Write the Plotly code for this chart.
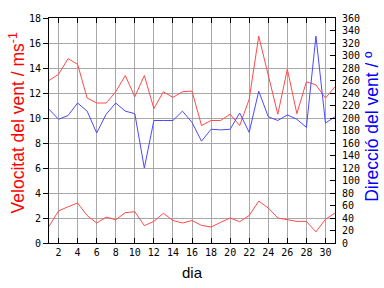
import plotly.graph_objects as go

dies = list(range(1, 32))
vel_max = [13.0, 13.5, 14.75, 14.3, 11.6, 11.2, 11.2, 12.1, 13.4, 11.7, 13.4, 10.75, 12.1, 11.65, 12.1,
           12.15, 9.4, 9.8, 9.8, 10.3, 9.4, 11.5, 16.55, 13.4, 10.3, 13.9, 10.35, 12.9, 12.65, 11.6, 12.5]
vel_mitja = [1.33, 2.57, 2.9, 3.2, 2.2, 1.6, 2.07, 1.86, 2.43, 2.5, 1.39, 1.73, 2.38, 1.8, 1.6,
             1.8, 1.41, 1.28, 1.65, 2.0, 1.7, 2.2, 3.35, 2.8, 2.0, 1.86, 1.73, 1.73, 0.89, 1.9, 2.4]
direccio = [214, 198, 204, 224, 211, 176, 206, 224, 211, 207, 120, 196, 196, 196, 211,
            193, 163, 182, 181, 182, 208, 177, 243, 202, 196, 205, 198, 185, 331, 192, 202]

fig = go.Figure()
fig.add_trace(go.Scatter(x=dies, y=vel_max, mode="lines", line=dict(color="#ff4a4a", width=1), yaxis="y"))
fig.add_trace(go.Scatter(x=dies, y=vel_mitja, mode="lines", line=dict(color="#ff4a4a", width=1), yaxis="y"))
fig.add_trace(go.Scatter(x=dies, y=direccio, mode="lines", line=dict(color="#4a4aff", width=1), yaxis="y2"))

tickfont = dict(family="DejaVu Sans Mono", size=10, color="black")
fig.update_layout(
    width=384, height=288,
    margin=dict(l=49, r=49, t=13, b=45),
    paper_bgcolor="white", plot_bgcolor="white",
    showlegend=False,
    xaxis=dict(range=[1, 31], tick0=2, dtick=2, showgrid=True, gridcolor="#a8a8a8", gridwidth=1,
               ticks="inside", ticklen=5, tickcolor="black", showline=True, linecolor="black",
               linewidth=1, mirror="ticks", tickfont=tickfont, zeroline=False),
    yaxis=dict(range=[0, 18], dtick=2, showgrid=True, gridcolor="#a8a8a8", gridwidth=1,
               ticks="outside", ticklen=5, tickcolor="black", showline=True, linecolor="black",
               linewidth=1, tickfont=tickfont, zeroline=False),
    yaxis2=dict(range=[0, 360], dtick=20, overlaying="y", side="right", showgrid=False,
                ticks="inside", ticklen=5, tickcolor="black", showline=True, linecolor="black",
                linewidth=1, tickfont=tickfont, zeroline=False, ticklabelstandoff=4),
    annotations=[
        dict(text="Velocitat del vent / ms<sup>-1</sup>", xref="paper", yref="paper",
             x=0, y=(243 - 121) / 229.5, xshift=-32, textangle=-90, showarrow=False,
             font=dict(family="Liberation Sans", size=17.5, color="#ff0000"),
             xanchor="center", yanchor="middle"),
        dict(text="Direcció del vent / º", xref="paper", yref="paper",
             x=1, y=(243 - 124.5) / 229.5, xshift=37, textangle=-90, showarrow=False,
             font=dict(family="Liberation Sans", size=17.5, color="#0000ff"),
             xanchor="center", yanchor="middle"),
        dict(text="dia", xref="paper", yref="paper", x=(192 - 49) / 286, y=0, yshift=-29,
             showarrow=False, font=dict(family="Liberation Sans", size=15, color="black"),
             xanchor="center", yanchor="middle"),
    ],
)
fig.write_html("out.html")
